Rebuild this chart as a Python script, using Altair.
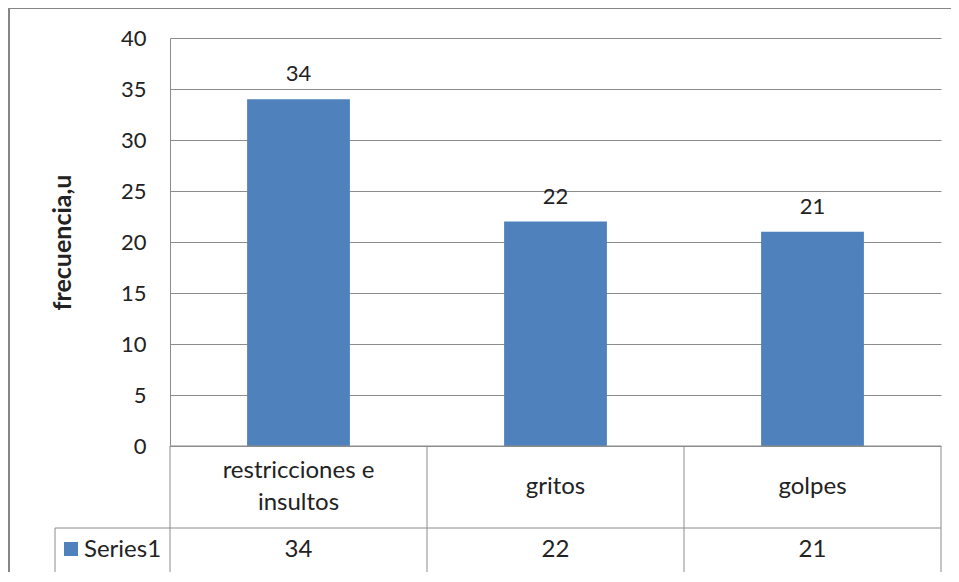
import altair as alt
import pandas as pd

categories = ["restricciones e\ninsultos", "gritos", "golpes"]
values = [34, 22, 21]
series_name = ["Series1"]
y_title = "frecuencia,u"
y_ticks = [0, 5, 10, 15, 20, 25, 30, 35, 40]

df = pd.DataFrame({"cat": categories, "val": values})
one = pd.DataFrame({"k": [0]})
last = pd.DataFrame({"cat": [categories[-1]]})
leg = pd.DataFrame({"name": series_name})

W, H = 771, 408
BLUE = "#4F81BD"
GRID = "#8C8C8C"
FRAME = "#868686"
FONT = "Lato"
TXT = "#222222"

xscale = alt.Scale(paddingInner=0, paddingOuter=0)
x = alt.X("cat:N", sort=categories, scale=xscale, axis=None)
yscale = alt.Scale(domain=[0, 40], nice=False)

base = alt.Chart(df)

bars = base.mark_bar(color=BLUE, width=alt.RelativeBandSize(0.4)).encode(
    x=x,
    y=alt.Y(
        "val:Q",
        scale=yscale,
        axis=alt.Axis(
            values=y_ticks,
            title=y_title,
            grid=True,
            gridColor=GRID,
            gridOpacity=1,
            domainColor=GRID,
            ticks=False,
            labelPadding=24,
            labelFontSize=22,
            labelFont=FONT,
            labelColor=TXT,
            titleFont=FONT,
            titleFontSize=25,
            titleFontWeight="bold",
            titleColor=TXT,
            titleX=-108,
            titleY=204,
            titleBaseline="middle",
            titleAlign="center",
        ),
    ),
)

labels = base.mark_text(
    font=FONT, fontSize=22, baseline="alphabetic", dy=-18, color=TXT
).encode(x=x, y=alt.Y("val:Q", scale=yscale), text="val:Q")

multi = "indexof(datum.cat, '\\n') >= 0"
cat_text_multi = base.transform_filter(multi).mark_text(
    font=FONT, fontSize=24, lineHeight=32, lineBreak="\n", baseline="middle", dy=-16, color=TXT
).encode(x=x, y=alt.value(449), text="cat:N")
cat_text_single = base.transform_filter("!(" + multi + ")").mark_text(
    font=FONT, fontSize=24, baseline="middle", color=TXT
).encode(x=x, y=alt.value(449), text="cat:N")

val_text = base.mark_text(
    font=FONT, fontSize=24, baseline="middle", color=TXT
).encode(x=x, y=alt.value(512), text="val:Q")

vrules = base.mark_rule(color=GRID).encode(
    x=alt.X("cat:N", sort=categories, scale=xscale, axis=None, bandPosition=0),
    y=alt.value(408),
    y2=alt.value(535),
)
vlast = alt.Chart(last).mark_rule(color=GRID).encode(
    x=alt.X("cat:N", sort=categories, scale=xscale, axis=None, bandPosition=1),
    y=alt.value(408),
    y2=alt.value(535),
)

hline0 = alt.Chart(one).mark_rule(color=GRID).encode(x=alt.value(0), x2=alt.value(W), y=alt.value(408))
hline1 = alt.Chart(one).mark_rule(color=GRID).encode(x=alt.value(-115), x2=alt.value(W), y=alt.value(490))
hline2 = alt.Chart(one).mark_rule(color=GRID).encode(x=alt.value(-115), x2=alt.value(W), y=alt.value(535))
vleft = alt.Chart(one).mark_rule(color=GRID).encode(x=alt.value(-115), y=alt.value(490), y2=alt.value(535))

leg_sq = alt.Chart(leg).mark_square(color=BLUE, size=196, opacity=1, filled=True).encode(
    x=alt.value(-99), y=alt.value(511)
)
leg_txt = alt.Chart(leg).mark_text(
    font=FONT, fontSize=24, baseline="middle", align="left", color=TXT
).encode(x=alt.value(-86), y=alt.value(512), text="name:N")

frame_l = alt.Chart(one).mark_rule(color=FRAME, strokeWidth=2).encode(
    x=alt.value(-161), y=alt.value(-30), y2=alt.value(H + 126)
)
frame_t = alt.Chart(one).mark_rule(color=FRAME, strokeWidth=2).encode(
    x=alt.value(-161), x2=alt.value(W + 10), y=alt.value(-30)
)

chart = alt.layer(
    bars, labels, cat_text_multi, cat_text_single, val_text, vrules, vlast,
    hline0, hline1, hline2, vleft, leg_sq, leg_txt, frame_l, frame_t
).properties(
    width=W,
    height=H,
    padding={"left": 162, "top": 30, "right": 10, "bottom": 126},
    autosize=alt.AutoSizeParams(type="none"),
    background="white",
).configure_view(stroke=None)

chart.save("out.html", embed_options={"renderer": "svg", "actions": False})
